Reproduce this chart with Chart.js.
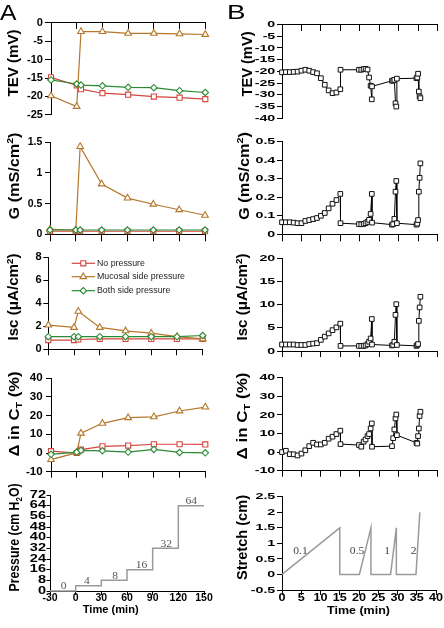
<!DOCTYPE html>
<html><head><meta charset="utf-8">
<script src="https://cdn.jsdelivr.net/npm/chart.js@4.4.1/dist/chart.umd.min.js"></script>
<style>
html,body{margin:0;padding:0;background:#fff}
#wrap{position:relative;width:444px;height:628px;overflow:hidden;background:#fff}
#wrap canvas{position:absolute;left:0;top:0}
</style></head><body><div id="wrap"></div>
<script>
// ---------- Panel A data ----------
const timeA = [-30, 0, 5, 30, 60, 90, 120, 150];
const groupNames = ['No pressure', 'Mucosal side pressure', 'Both side pressure'];
const tevNoPressure = [-14.8, -17.0, -18.0, -19.1, -19.5, -20.0, -20.3, -20.7];
const tevMucosal    = [-19.8, -22.7, -2.4, -2.4, -2.9, -2.9, -3.0, -3.2];
const tevBoth       = [-15.5, -16.6, -16.9, -17.1, -17.5, -17.6, -18.4, -18.9];
const gNoPressure   = [0.05, 0.05, 0.05, 0.05, 0.05, 0.05, 0.05, 0.05];
const gMucosal      = [0.08, 0.07, 1.43, 0.82, 0.59, 0.49, 0.40, 0.31];
const gBoth         = [0.07, 0.07, 0.07, 0.07, 0.07, 0.07, 0.07, 0.07];
const iscNoPressure = [0.8, 0.8, 0.85, 0.9, 0.9, 0.9, 0.9, 0.9];
const iscMucosal    = [2.1, 1.9, 3.3, 1.9, 1.6, 1.4, 1.1, 0.9];
const iscBoth       = [1.1, 1.1, 1.1, 1.1, 1.1, 1.1, 1.1, 1.2];
const ctNoPressure  = [1.0, 0.0, 1.8, 3.6, 4.0, 4.7, 4.7, 4.6];
const ctMucosal     = [-3.5, 0.2, 10.6, 15.9, 18.9, 19.4, 22.5, 24.6];
const ctBoth        = [-0.7, 0.5, 1.4, 1.2, 0.5, 1.9, 0.3, 0.1];
const pressureTime  = [-30, 0, 30, 60, 90, 120, 150];
const pressureLevel = [0, 4, 8, 16, 32, 64, 64];
const pressureLabelText  = ['0', '4', '8', '16', '32', '64'];
const pressureLabelTime  = [-14, 13, 46, 77, 106, 135];
const pressureLabelLevel = [0, 4, 8, 16, 32, 64];

// ---------- Panel B data ----------
const timeB = [0,1,2,3,4,5,6,7,8,9,10,11,12,13,14,15,15.05,
  19.8,20.4,21,21.5,22,22.4,22.8,23.1,23.15,
  28.3,28.6,28.9,29.2,29.4,29.55,
  34.6,34.8,35,35.2,35.4,35.6];
const tevB = [-20.4,-20.3,-20.3,-20.2,-20.1,-19.7,-19.3,-19.7,-20.3,-20.8,-22.9,-25.7,-28.1,-29.3,-29.0,-27.6,-19.3,
  -19.3,-19.3,-19.0,-18.9,-19.2,-22.6,-26.1,-31.9,-26.4,
  -24.0,-23.9,-23.6,-33.6,-35.0,-23.1,
  -22.9,-22.6,-21.0,-28.6,-30.7,-31.4];
const gB = [0.065,0.065,0.065,0.063,0.06,0.06,0.072,0.077,0.082,0.088,0.10,0.115,0.14,0.165,0.185,0.218,0.06,
  0.055,0.054,0.056,0.06,0.067,0.078,0.11,0.218,0.063,
  0.052,0.055,0.083,0.23,0.288,0.06,
  0.052,0.058,0.077,0.23,0.305,0.383];
const iscB = [1.4,1.4,1.4,1.4,1.3,1.3,1.3,1.5,1.6,1.7,2.4,3.1,3.8,4.5,5.1,5.9,1.1,
  1.1,1.1,1.1,1.2,1.5,2.0,2.7,6.9,1.4,
  1.2,1.3,2.0,7.8,10.1,1.3,
  1.1,1.3,1.5,6.5,9.4,11.7];
const ctB = [0,0.7,-1.1,-1.2,-1.8,-0.8,1.0,3.2,5.0,4.1,4.1,5.0,7.2,8.3,9.7,11.5,4.3,
  3.8,2.9,5.6,6.8,8.6,9.7,12.7,15.4,2.9,
  3.2,7.5,12.2,18.1,20.2,9.1,
  5.0,4.6,8.6,12.7,19.4,21.7];
const stretchTime   = [0, 15, 15, 20.1, 23.1, 23.1, 28.2, 29.7, 29.7, 34.8, 35.8];
const stretchLength = [0, 1.5, 0, 0, 1.5, 0, 0, 1.5, 0, 0, 2.0];
const stretchLabelText   = ['0.1', '0.5', '1', '2'];
const stretchLabelTime   = [4.8, 19.5, 27.3, 34.2];
const stretchLabelLength = [0.76, 0.76, 0.76, 0.76];

// ---------- drawing helpers ----------
const SANS = '"Liberation Sans", Arial, Helvetica, sans-serif';
const SERIF = '"Liberation Serif", "Times New Roman", serif';
const RED = '#d4463f', ORANGE = '#b5772b', GREEN = '#2b8a34', GREY = '#9a9a9a';
const wrap = document.getElementById('wrap');
const pts = (xs, ys) => xs.map((x, i) => ({x: x, y: ys[i]}));
const fmt = v => String(Math.round(v * 1000) / 1000);

function txt(ctx, s, x, y, o) {
  ctx.save();
  ctx.font = (o.weight || 'bold') + ' ' + o.size + 'px ' + (o.family || SANS);
  ctx.fillStyle = o.color || '#000';
  ctx.textBaseline = o.baseline || 'middle';
  ctx.textAlign = 'left';
  const w = ctx.measureText(s).width;
  const k = o.width ? o.width / w : (o.sx || 1);
  ctx.translate(x, y);
  ctx.scale(k, 1);
  const a = o.align || 'left';
  const dx = a === 'right' ? -w : a === 'center' ? -w / 2 : 0;
  ctx.fillText(s, dx, 0);
  ctx.restore();
}
function vtitle(ctx, t) {
  ctx.save();
  ctx.fillStyle = '#000'; ctx.textBaseline = 'middle'; ctx.textAlign = 'left';
  const fonts = t.segs.map(s => 'bold ' + ((s.sub || s.sup) ? t.size * 0.65 : t.size) + 'px ' + SANS);
  let total = 0;
  const ws = t.segs.map((s, i) => { ctx.font = fonts[i]; const w = ctx.measureText(s.t).width; total += w; return w; });
  const k = t.len ? t.len / total : 1;
  ctx.translate(t.x, t.y); ctx.rotate(-Math.PI / 2); ctx.scale(k, 1);
  let x = -total / 2;
  t.segs.forEach((s, i) => {
    ctx.font = fonts[i];
    const dy = s.sub ? t.size * 0.3 : s.sup ? -t.size * 0.3 : 0;
    ctx.fillText(s.t, x, dy); x += ws[i];
  });
  ctx.restore();
}
function marker(ctx, style, x, y, r, color) {
  ctx.save(); ctx.beginPath();
  if (style === 'rect') { const s = r * Math.SQRT1_2; ctx.rect(x - s, y - s, 2 * s, 2 * s); }
  else if (style === 'triangle') {
    for (let i = 0; i < 3; i++) { const a = i * 2 * Math.PI / 3; const px = x + Math.sin(a) * r, py = y - Math.cos(a) * r; if (i) ctx.lineTo(px, py); else ctx.moveTo(px, py); }
    ctx.closePath();
  } else { ctx.moveTo(x - r, y); ctx.lineTo(x, y - r); ctx.lineTo(x + r, y); ctx.lineTo(x, y + r); ctx.closePath(); }
  ctx.fillStyle = '#fff'; ctx.fill(); ctx.lineWidth = 1.1; ctx.strokeStyle = color; ctx.stroke(); ctx.restore();
}

function deco(c, p) {
  const ctx = c.ctx, ca = c.chartArea, xs = c.scales.x, ys = c.scales.y;
  ys.ticks.forEach(t => txt(ctx, fmt(t.value), ca.left - p.yl.gap, ys.getPixelForValue(t.value), {size: p.yl.size, sx: p.yl.sx, align: 'right'}));
  if (p.xl) xs.ticks.forEach(t => txt(ctx, fmt(t.value), xs.getPixelForValue(t.value), ca.bottom + p.xl.dy, {size: p.xl.size, sx: p.xl.sx, align: 'center'}));
  vtitle(ctx, p.title);
  if (p.xTitle) txt(ctx, 'Time (min)', p.xTitle.x, p.xTitle.y, {size: p.xTitle.size, width: p.xTitle.w, align: 'center'});
  if (p.extra) p.extra(c, ctx, xs, ys);
}

function panel(p) {
  const cv = document.createElement('canvas');
  cv.width = 444; cv.height = 628;
  cv.style.width = '444px'; cv.style.height = '628px';
  wrap.appendChild(cv);
  const YW = 40, XH = 8;
  const padding = {left: p.L - YW, top: p.T, right: 444 - p.R, bottom: 628 - p.B - (p.xTop ? 0 : XH)};
  return new Chart(cv, {
    type: 'scatter',
    data: {datasets: p.datasets},
    options: {
      responsive: false, animation: false, devicePixelRatio: 1,
      layout: {padding: padding},
      plugins: {legend: {display: false}, tooltip: {enabled: false}},
      scales: {
        x: {type: 'linear', min: p.x[0], max: p.x[1],
          position: p.xTop ? {y: p.y[1]} : 'bottom',
          ticks: {display: false, stepSize: p.x[2], autoSkip: false},
          grid: {drawOnChartArea: false, drawTicks: true, tickLength: p.xtl, color: '#000', lineWidth: 1},
          border: {display: true, color: '#000', width: 1},
          afterFit: s => { s.height = XH; }},
        y: {type: 'linear', min: p.y[0], max: p.y[1], position: 'left',
          ticks: {display: false, stepSize: p.y[2], autoSkip: false},
          grid: {drawOnChartArea: false, drawTicks: true, tickLength: p.ytl, color: '#000', lineWidth: 1},
          border: {display: true, color: '#000', width: 1},
          afterFit: s => { s.width = YW; }}
      }
    },
    plugins: [{id: 'deco', afterDraw: c => deco(c, p)}]
  });
}

function groupSets(a, b, c) {
  return [
    {data: pts(timeA, c), borderColor: GREEN, pointStyle: 'rectRot', pointRadius: 3.2, order: 0},
    {data: pts(timeA, b), borderColor: ORANGE, pointStyle: 'triangle', pointRadius: 3.8, order: 1},
    {data: pts(timeA, a), borderColor: RED, pointStyle: 'rect', pointRadius: 3.6, order: 2}
  ].map(d => Object.assign({showLine: true, borderWidth: 1.2, pointBorderColor: d.borderColor,
    pointBackgroundColor: '#fff', backgroundColor: '#fff', pointBorderWidth: 1.1, clip: false}, d));
}
function blackSet(ys) {
  return [{data: pts(timeB, ys), showLine: true, borderColor: '#000', borderWidth: 1, pointStyle: 'rect',
    pointRadius: 3.3, pointBorderColor: '#111', pointBackgroundColor: '#fff', backgroundColor: '#fff', pointBorderWidth: 1, clip: false}];
}

const ylA = {gap: 8, size: 10.5, sx: 1.05};
const ylB = {gap: 6.7, size: 9.5, sx: 1.5};

// ---------- Column A ----------
panel({L: 51, R: 205.3, T: 22.7, B: 115, x: [-30, 150, 30], y: [-25, 0, 5], xTop: true, xtl: 6, ytl: 6, yl: ylA,
  datasets: groupSets(tevNoPressure, tevMucosal, tevBoth),
  title: {segs: [{t: 'TEV (mV)'}], x: 14, y: 63, size: 14, len: 67},
  extra: (c, ctx) => txt(ctx, 'A', 0, 20, {weight: 'normal', size: 22, baseline: 'alphabetic', width: 16.5})});
panel({L: 50, R: 205, T: 142.3, B: 234.3, x: [-30, 150, 30], y: [0, 1.5, 0.5], xtl: 7, ytl: 5, yl: {gap: 7.7, size: 10.5, sx: 1.0},
  datasets: groupSets(gNoPressure, gMucosal, gBoth),
  title: {segs: [{t: 'G (mS/cm'}, {t: '2', sup: 1}, {t: ')'}], x: 15, y: 176, size: 14, len: 87}});
panel({L: 48.3, R: 202.7, T: 257.3, B: 349.3, x: [-30, 150, 30], y: [0, 8, 2], xtl: 6, ytl: 5, yl: {gap: 6.7, size: 10.5, sx: 1.05},
  datasets: groupSets(iscNoPressure, iscMucosal, iscBoth),
  title: {segs: [{t: 'Isc (\u03bcA/cm'}, {t: '2', sup: 1}, {t: ')'}], x: 14.5, y: 297, size: 14, len: 87},
  extra: (c, ctx) => {
    const rows = [263.3, 276.7, 290.7], cols = [RED, ORANGE, GREEN], shapes = ['rect', 'triangle', 'rectRot'], rad = [3.6, 3.8, 3.2];
    rows.forEach((y, i) => {
      ctx.save(); ctx.strokeStyle = cols[i]; ctx.lineWidth = 1.2; ctx.beginPath(); ctx.moveTo(71.7, y); ctx.lineTo(95, y); ctx.stroke(); ctx.restore();
      marker(ctx, shapes[i], 83.3, y, rad[i], cols[i]);
      txt(ctx, groupNames[i], 97, y, {weight: 'normal', size: 8.8, color: '#222'});
    });
  }});
panel({L: 51, R: 205.3, T: 378.3, B: 471.7, x: [-30, 150, 30], y: [-10, 40, 10], xtl: 6, ytl: 5, yl: {gap: 8.3, size: 10.5, sx: 1.1},
  datasets: groupSets(ctNoPressure, ctMucosal, ctBoth),
  title: {segs: [{t: '\u0394 in C'}, {t: 'T', sub: 1}, {t: ' (%)'}], x: 15, y: 414, size: 14, len: 85}});
panel({L: 50, R: 204, T: 495, B: 591, x: [-30, 150, 30], y: [0, 72, 8], xtl: 4, ytl: 3.5, yl: {gap: 4, size: 10, sx: 1.45},
  xl: {size: 10.5, sx: 1, dy: 7.5}, xTitle: {x: 110.7, y: 610, size: 11, w: 56},
  datasets: [{data: pts(pressureTime, pressureLevel), showLine: true, stepped: 'before', borderColor: GREY, borderWidth: 1.5, pointRadius: 0, clip: false}],
  title: {segs: [{t: 'Pressure (cm H'}, {t: '2', sub: 1}, {t: 'O)'}], x: 15, y: 537.5, size: 14, len: 108},
  extra: (c, ctx, xs, ys) => pressureLabelText.forEach((s, i) =>
    txt(ctx, s, xs.getPixelForValue(pressureLabelTime[i]), ys.getPixelForValue(pressureLabelLevel[i]) - 4.5,
      {weight: 'normal', family: SERIF, size: 10.5, sx: 1.1, color: '#555', align: 'center'}))});

// ---------- Column B ----------
panel({L: 282, R: 437.5, T: 24.5, B: 118.3, x: [0, 40, 5], y: [-40, 0, 5], xTop: true, xtl: 6, ytl: 5, yl: ylB,
  datasets: blackSet(tevB),
  title: {segs: [{t: 'TEV (mV)'}], x: 248.5, y: 64, size: 14, len: 65},
  extra: (c, ctx) => txt(ctx, 'B', 227, 18.5, {weight: 'normal', size: 21, baseline: 'alphabetic', width: 18.5})});
panel({L: 282, R: 437.5, T: 141.7, B: 234.3, x: [0, 40, 5], y: [0, 0.5, 0.1], xtl: 7, ytl: 5, yl: ylB,
  datasets: blackSet(gB),
  title: {segs: [{t: 'G (mS/cm'}, {t: '2', sup: 1}, {t: ')'}], x: 245, y: 176, size: 14, len: 88}});
panel({L: 282, R: 437.5, T: 258.3, B: 351, x: [0, 40, 5], y: [0, 20, 5], xtl: 6, ytl: 5, yl: ylB,
  datasets: blackSet(iscB),
  title: {segs: [{t: 'Isc (\u03bcA/cm'}, {t: '2', sup: 1}, {t: ')'}], x: 243.5, y: 297, size: 14, len: 87}});
panel({L: 282, R: 437.5, T: 377.7, B: 470.7, x: [0, 40, 5], y: [-10, 40, 10], xtl: 6, ytl: 5, yl: ylB,
  datasets: blackSet(ctB),
  title: {segs: [{t: '\u0394 in C'}, {t: 'T', sub: 1}, {t: ' (%)'}], x: 243.5, y: 416, size: 14, len: 87}});
panel({L: 282, R: 436, T: 496.7, B: 590, x: [0, 40, 5], y: [-0.5, 2.5, 0.5], xtl: 5, ytl: 5, yl: ylB,
  xl: {size: 10.5, sx: 1.2, dy: 8.3}, xTitle: {x: 358.5, y: 611, size: 10.5, w: 63},
  datasets: [{data: pts(stretchTime, stretchLength), showLine: true, borderColor: GREY, borderWidth: 1.5, pointRadius: 0, clip: false}],
  title: {segs: [{t: 'Stretch (cm)'}], x: 243, y: 537.5, size: 14, len: 85},
  extra: (c, ctx, xs, ys) => stretchLabelText.forEach((s, i) =>
    txt(ctx, s, xs.getPixelForValue(stretchLabelTime[i]), ys.getPixelForValue(stretchLabelLength[i]),
      {weight: 'normal', family: SERIF, size: 10.5, sx: 1.1, color: '#444', align: 'center'}))});
</script>
</body></html>
